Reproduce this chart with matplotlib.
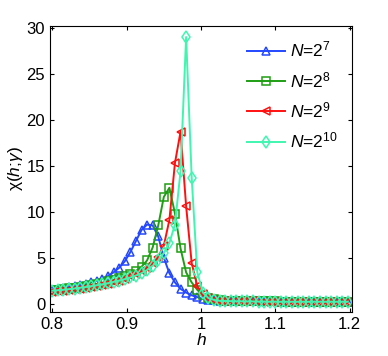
import numpy as np
import matplotlib
matplotlib.use('Agg')
import matplotlib.pyplot as plt

plt.rcParams['font.family'] = ['Liberation Sans', 'DejaVu Sans']
plt.rcParams['mathtext.fontset'] = 'custom'
plt.rcParams['mathtext.rm'] = 'Liberation Sans'
plt.rcParams['mathtext.it'] = 'Liberation Sans:italic'

# field grid
h = np.round(0.8 + 0.0075 * np.arange(54), 4)

chi_n7 = [1.5, 1.6, 1.7, 1.8, 1.9, 2.0, 2.1, 2.3, 2.5, 2.7,
          3.0, 3.4, 3.9, 4.6, 5.6, 6.8, 8.0, 8.6, 8.5, 7.3,
          5.0, 3.3, 2.3, 1.6, 1.2, 0.9, 0.7, 0.5, 0.4, 0.35,
          0.3, 0.3, 0.28, 0.27, 0.26, 0.25, 0.25, 0.24, 0.24, 0.23,
          0.23, 0.22, 0.22, 0.22, 0.21, 0.21, 0.21, 0.2, 0.2, 0.2,
          0.2, 0.2, 0.2, 0.2]
chi_n8 = [1.45, 1.5, 1.58, 1.65, 1.73, 1.82, 1.92, 2.02, 2.14, 2.27,
          2.42, 2.58, 2.77, 2.98, 3.22, 3.55, 4.0, 4.7, 6.1, 8.5,
          11.6, 12.6, 9.8, 6.0, 3.4, 2.3, 1.5, 0.9, 0.6, 0.45,
          0.35, 0.3, 0.28, 0.27, 0.26, 0.25, 0.25, 0.24, 0.24, 0.23,
          0.23, 0.22, 0.22, 0.22, 0.21, 0.21, 0.21, 0.2, 0.2, 0.2,
          0.2, 0.2, 0.2, 0.2]
chi_n9 = [1.3, 1.35, 1.4, 1.47, 1.55, 1.63, 1.72, 1.82, 1.93, 2.05,
          2.18, 2.33, 2.5, 2.7, 2.95, 3.25, 3.5, 3.9, 4.4, 5.1,
          6.3, 9.1, 15.3, 18.7, 10.6, 4.4, 1.9, 1.0, 0.6, 0.4,
          0.3, 0.28, 0.26, 0.25, 0.24, 0.23, 0.23, 0.22, 0.22, 0.21,
          0.21, 0.2, 0.2, 0.2, 0.19, 0.19, 0.19, 0.18, 0.18, 0.18,
          0.18, 0.18, 0.18, 0.18]
chi_n10 = [1.4, 1.45, 1.5, 1.57, 1.64, 1.72, 1.8, 1.9, 2.0, 2.1,
           2.22, 2.36, 2.5, 2.66, 2.84, 3.05, 3.3, 3.65, 4.1, 4.7,
           5.5, 6.6, 8.6, 14.4, 29.0, 13.7, 3.4, 1.2, 0.6, 0.4,
           0.3, 0.28, 0.26, 0.25, 0.24, 0.23, 0.23, 0.22, 0.22, 0.21,
           0.21, 0.2, 0.2, 0.2, 0.2, 0.2, 0.2, 0.2, 0.2, 0.2,
           0.2, 0.2, 0.2, 0.2]

labels = [r'$N$=2$^{7}$', r'$N$=2$^{8}$', r'$N$=2$^{9}$', r'$N$=2$^{10}$']
colors = ['#2448ff', '#1f9e14', '#ff1010', '#40f5b0']
markers = ['^', 's', '<', 'd']

fig = plt.figure(figsize=(3.88, 3.56), dpi=100)
ax = fig.add_axes([0.129, 0.124, 0.778, 0.803])

for y, lab, c, m in zip([chi_n7, chi_n8, chi_n9, chi_n10], labels, colors, markers):
    ax.plot(h, y, color=c, marker=m, markerfacecolor='none', markeredgecolor=c,
            markersize=6, markeredgewidth=1.1, linewidth=1.4, label=lab)

ax.set_xlim(0.797, 1.203)
ax.set_ylim(-0.9, 30.2)
ax.set_xticks([0.8, 0.9, 1.0, 1.1, 1.2])
ax.set_xticklabels(['0.8', '0.9', '1', '1.1', '1.2'])
ax.set_yticks([0, 5, 10, 15, 20, 25, 30])
ax.tick_params(direction='in', top=True, right=True, labelsize=12, length=3)
ax.set_xlabel(r'$h$', fontsize=12.5, labelpad=0)
ax.set_ylabel(r'χ($h$;$\gamma$)', fontsize=12.5, labelpad=1)

ax.legend(loc='upper right', frameon=False, fontsize=12.5, handlelength=2.2,
          labelspacing=0.6, handletextpad=0.3, borderaxespad=0.4)

fig.savefig('out.png', dpi=100)
